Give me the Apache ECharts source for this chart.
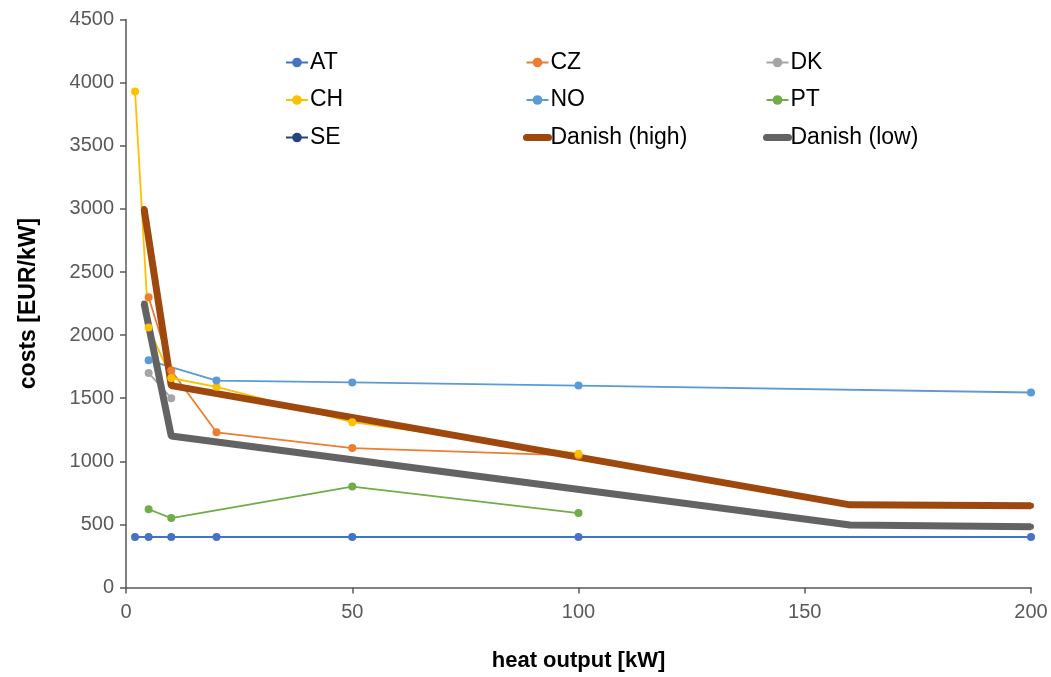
<!DOCTYPE html>
<html>
<head>
<meta charset="utf-8">
<script src="https://cdn.jsdelivr.net/npm/echarts@6/dist/echarts.min.js"></script>
<style>
  html, body { margin: 0; padding: 0; background: #fff; }
  #chart { width: 1051px; height: 677px; }
</style>
</head>
<body>
<div id="chart"></div>
<script>
// heat output [kW] and costs [EUR/kW] per series
var atX = [2, 5, 10, 20, 50, 100, 200];
var atY = [400, 400, 400, 400, 400, 400, 400];
var czX = [5, 10, 20, 50, 100];
var czY = [2300, 1720, 1230, 1105, 1045];
var dkX = [5, 10];
var dkY = [1700, 1500];
var chX = [2, 5, 10, 20, 50, 100];
var chY = [3930, 2060, 1660, 1590, 1310, 1060];
var noX = [5, 20, 50, 100, 200];
var noY = [1800, 1640, 1625, 1600, 1545];
var ptX = [5, 10, 50, 100];
var ptY = [620, 550, 800, 590];
var seX = [];
var seY = [];
var dhX = [4, 10, 160, 200];
var dhY = [3000, 1600, 655, 648];
var dlX = [4, 10, 160, 200];
var dlY = [2250, 1200, 495, 482];

var font = 'Liberation Sans, Arial, sans-serif';

function pairs(xs, ys) {
    var out = [];
    for (var i = 0; i < xs.length; i++) out.push([xs[i], ys[i]]);
    return out;
}

function thin(name, color, xs, ys) {
    return {
        name: name, type: 'line', data: pairs(xs, ys),
        symbol: 'circle', symbolSize: 8,
        itemStyle: { color: color },
        lineStyle: { color: color, width: 1.8 }
    };
}

function thick(name, color, xs, ys) {
    return {
        name: name, type: 'line', data: pairs(xs, ys),
        symbol: 'circle', symbolSize: 6,
        itemStyle: { color: color },
        lineStyle: { color: color, width: 7 }
    };
}

function legendCol(left, names) {
    var data = names.map(function (n) {
        if (n.indexOf('Danish') === 0) return { name: n, lineStyle: { width: 7, cap: 'round' }, itemStyle: { opacity: 0 } };
        return n;
    });
    return {
        orient: 'vertical', left: left, top: 46,
        itemWidth: 22, itemHeight: 12, itemGap: 14.5,
        textStyle: { fontFamily: font, fontSize: 23, color: '#000', lineHeight: 23, padding: [0, 0, 0, -3] },
        data: data
    };
}

function plain(v) { return String(v); }

var chart = echarts.init(document.getElementById('chart'));
var option = {
    animation: false,
    backgroundColor: '#fff',
    grid: { left: 126, right: 20, top: 19.6, bottom: 89.5, containLabel: false },
    legend: [
        legendCol(280, ['AT', 'CH', 'SE']),
        legendCol(518, ['CZ', 'NO', 'Danish (high)']),
        legendCol(758, ['DK', 'PT', 'Danish (low)'])
    ],
    xAxis: {
        type: 'value', min: 0, max: 200, interval: 50,
        name: 'heat output [kW]', nameLocation: 'middle', nameGap: 62,
        nameTextStyle: { fontFamily: font, fontSize: 22, fontWeight: 'bold', color: '#000' },
        axisLine: { show: true, lineStyle: { color: '#595959', width: 1.5 } },
        axisTick: { show: true, length: 6, lineStyle: { color: '#595959', width: 1.5 } },
        axisLabel: { fontFamily: font, fontSize: 20, color: '#595959', margin: 15, formatter: plain },
        splitLine: { show: false }
    },
    yAxis: {
        type: 'value', min: 0, max: 4500, interval: 500,
        name: 'costs [EUR/kW]', nameLocation: 'middle', nameGap: 86, nameRotate: 90,
        nameTextStyle: { fontFamily: font, fontSize: 23, fontWeight: 'bold', color: '#000' },
        axisLine: { show: true, lineStyle: { color: '#595959', width: 1.5 } },
        axisTick: { show: true, length: 6, lineStyle: { color: '#595959', width: 1.5 } },
        axisLabel: { fontFamily: font, fontSize: 20, color: '#595959', margin: 12, formatter: plain },
        splitLine: { show: false }
    },
    series: [
        thin('AT', '#4472C4', atX, atY),
        thin('CZ', '#ED7D31', czX, czY),
        thin('DK', '#A5A5A5', dkX, dkY),
        thin('CH', '#FFC000', chX, chY),
        thin('NO', '#5B9BD5', noX, noY),
        thin('PT', '#70AD47', ptX, ptY),
        thin('SE', '#264478', seX, seY),
        thick('Danish (high)', '#9E480E', dhX, dhY),
        thick('Danish (low)', '#636363', dlX, dlY)
    ]
};
chart.setOption(option);
window.onresize = chart.resize;
</script>
</body>
</html>
